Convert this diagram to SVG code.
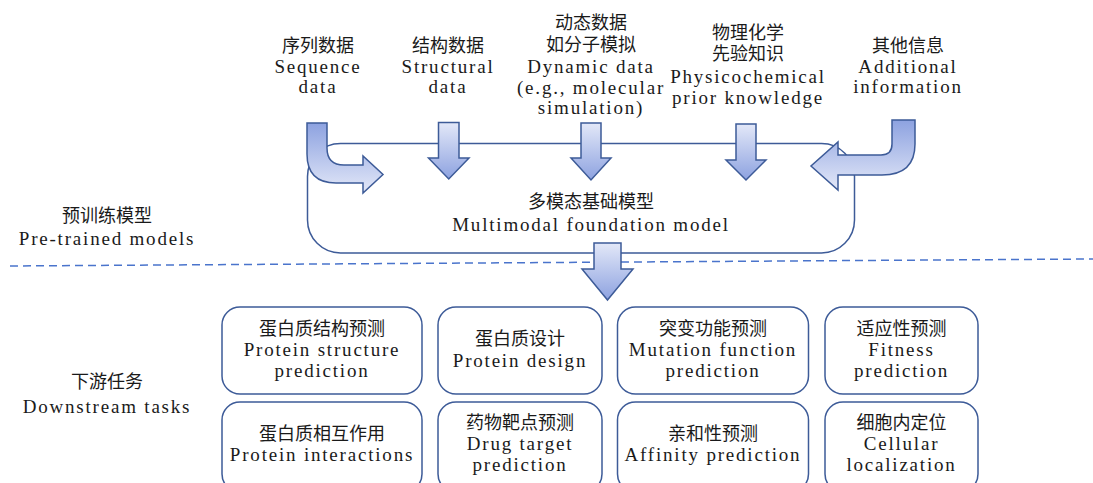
<svg xmlns="http://www.w3.org/2000/svg" width="1093" height="483" viewBox="0 0 1093 483">
  <defs>
    <!-- fill for arrows pointing down: pale at the top, deeper blue at the head -->
    <linearGradient id="gradDown" x1="0" y1="0" x2="0" y2="1">
      <stop offset="0" stop-color="#e3e8f8"/>
      <stop offset="1" stop-color="#8da2e0"/>
    </linearGradient>
    <!-- fill for the bent arrows: deeper blue at the top of the shaft -->
    <linearGradient id="gradBend" x1="0" y1="0" x2="0" y2="1">
      <stop offset="0" stop-color="#8da2e0"/>
      <stop offset="1" stop-color="#e3e8f8"/>
    </linearGradient>
    <style>
      text { font-family: "Liberation Serif", "Noto Sans CJK SC", serif; font-size: 19px; letter-spacing: 1.8px; fill: #1a1a1a; text-anchor: middle; }
      text.cn { font-size: 18px; letter-spacing: 0; }
      .box { fill: #ffffff; stroke: #3d5b98; stroke-width: 1.5; }
      .frame { fill: none; stroke: #3d5b98; stroke-width: 1.5; }
      .arrow-down { fill: url(#gradDown); stroke: #3d5b98; stroke-width: 1.5; stroke-linejoin: miter; }
      .arrow-bend { fill: url(#gradBend); stroke: #3d5b98; stroke-width: 1.5; stroke-linejoin: miter; }
      .divider { stroke: #4a74cc; stroke-width: 1.5; stroke-dasharray: 8 5; fill: none; }
    </style>
  </defs>

  <!-- section labels -->
  <g id="label-pretrained">
    <text class="cn" x="107" y="222">预训练模型</text>
    <text x="107" y="245">Pre-trained models</text>
  </g>
  <g id="label-downstream">
    <text class="cn" x="107" y="388">下游任务</text>
    <text x="107" y="413">Downstream tasks</text>
  </g>

  <!-- dashed divider between the two stages -->
  <path class="divider" d="M10,266 L1093,259"/>

  <!-- foundation model -->
  <g id="foundation-model">
    <rect class="frame" x="307.5" y="143.5" width="547" height="109.5" rx="33" ry="33"/>
    <text class="cn" x="591" y="208">多模态基础模型</text>
    <text x="591" y="231">Multimodal foundation model</text>
  </g>

  <!-- input data sources -->
  <g id="src-sequence">
    <text class="cn" x="318" y="52">序列数据</text>
    <text x="318" y="73">Sequence</text>
    <text x="318" y="93">data</text>
  </g>
  <g id="src-structure">
    <text class="cn" x="448" y="52">结构数据</text>
    <text x="448" y="73">Structural</text>
    <text x="448" y="93">data</text>
  </g>
  <g id="src-dynamic">
    <text class="cn" x="591" y="29">动态数据</text>
    <text class="cn" x="591" y="51">如分子模拟</text>
    <text x="591" y="73">Dynamic data</text>
    <text x="591" y="94">(e.g., molecular</text>
    <text x="591" y="114">simulation)</text>
  </g>
  <g id="src-physchem">
    <text class="cn" x="748" y="39">物理化学</text>
    <text class="cn" x="748" y="60">先验知识</text>
    <text x="748" y="83">Physicochemical</text>
    <text x="748" y="104">prior knowledge</text>
  </g>
  <g id="src-additional">
    <text class="cn" x="908" y="52">其他信息</text>
    <text x="908" y="73">Additional</text>
    <text x="908" y="93">information</text>
  </g>

  <!-- arrows feeding the model and leading to the tasks -->
  <g id="connectors">
    <path class="arrow-bend" d="M307,123 L327,123 L327,148 Q327,165 344,165 L363,165 L363,156 L383,174.5 L363,193 L363,183 L336,183 Q307,183 307,154 Z"/>
    <path class="arrow-down" d="M438.5,122.5 L459,122.5 L459,158 L469,158 L448.75,179 L428.5,158 L438.5,158 Z"/>
    <path class="arrow-down" d="M581,123 L601,123 L601,158 L611,158 L591,180 L571,158 L581,158 Z"/>
    <path class="arrow-down" d="M736,124 L756,124 L756,160 L766,160 L746,180 L726,160 L736,160 Z"/>
    <path class="arrow-bend" d="M915,120 L892,120 L892,144 Q892,155 881,155 L838,155 L838,142 L811,166 L838,190 L838,175 L882,175 Q915,175 915,144 Z"/>
    <path class="arrow-down" d="M594,243 L621,243 L621,269 L633,269 L607.5,300 L582,269 L594,269 Z"/>
  </g>

  <!-- downstream tasks, first row -->
  <g id="task-structure">
    <rect class="box" x="222" y="307" width="200" height="87" rx="18" ry="18"/>
    <text class="cn" x="322" y="335">蛋白质结构预测</text>
    <text x="322" y="356">Protein structure</text>
    <text x="322" y="377">prediction</text>
  </g>
  <g id="task-design">
    <rect class="box" x="438" y="307" width="164" height="87" rx="18" ry="18"/>
    <text class="cn" x="520" y="345">蛋白质设计</text>
    <text x="520" y="367">Protein design</text>
  </g>
  <g id="task-mutation">
    <rect class="box" x="617.5" y="307" width="191" height="87" rx="18" ry="18"/>
    <text class="cn" x="713" y="335">突变功能预测</text>
    <text x="713" y="356">Mutation function</text>
    <text x="713" y="377">prediction</text>
  </g>
  <g id="task-fitness">
    <rect class="box" x="825" y="307" width="153" height="87" rx="18" ry="18"/>
    <text class="cn" x="901.5" y="335">适应性预测</text>
    <text x="901.5" y="356">Fitness</text>
    <text x="901.5" y="377">prediction</text>
  </g>

  <!-- downstream tasks, second row -->
  <g id="task-interactions">
    <rect class="box" x="222" y="402" width="200" height="90" rx="18" ry="18"/>
    <text class="cn" x="322" y="440">蛋白质相互作用</text>
    <text x="322" y="461">Protein interactions</text>
  </g>
  <g id="task-drug-target">
    <rect class="box" x="438" y="402" width="164" height="90" rx="18" ry="18"/>
    <text class="cn" x="520" y="429">药物靶点预测</text>
    <text x="520" y="450">Drug target</text>
    <text x="520" y="471">prediction</text>
  </g>
  <g id="task-affinity">
    <rect class="box" x="617.5" y="402" width="191" height="90" rx="18" ry="18"/>
    <text class="cn" x="713" y="440">亲和性预测</text>
    <text x="713" y="461">Affinity prediction</text>
  </g>
  <g id="task-localization">
    <rect class="box" x="825" y="402" width="153" height="90" rx="18" ry="18"/>
    <text class="cn" x="901.5" y="429">细胞内定位</text>
    <text x="901.5" y="450">Cellular</text>
    <text x="901.5" y="471">localization</text>
  </g>
</svg>
